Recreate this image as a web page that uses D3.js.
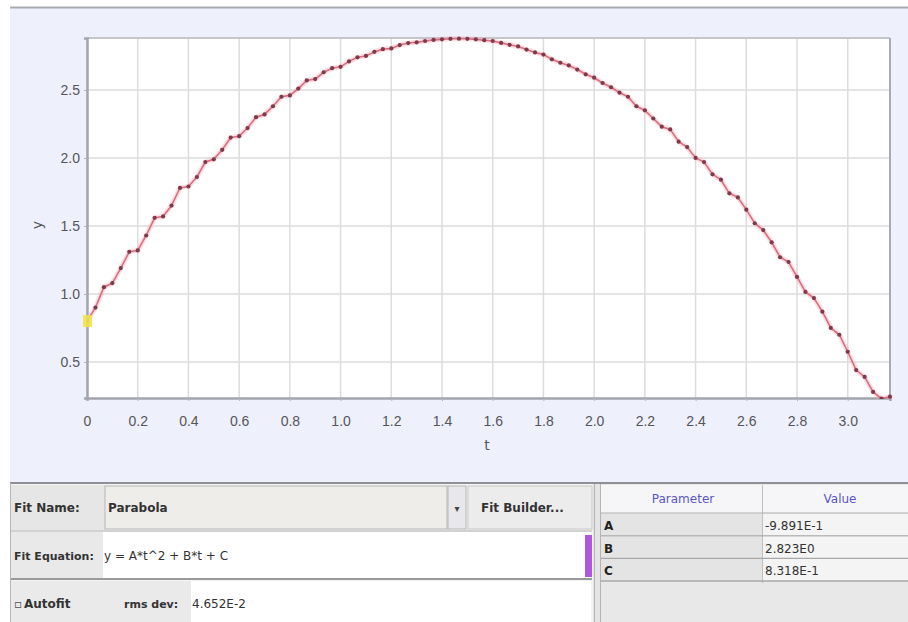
<!DOCTYPE html>
<html>
<head>
<meta charset="utf-8">
<script src="https://cdn.jsdelivr.net/npm/d3@7"></script>
<style>
  body { margin: 0; background: #fff; }
  svg { display: block; font-family: "DejaVu Sans", "Liberation Sans", sans-serif; }
</style>
</head>
<body>
<svg id="chart" width="908" height="622"></svg>
<script>
const tValues = [0, 0.0333, 0.0667, 0.1, 0.1333, 0.1667, 0.2, 0.2333, 0.2667, 0.3,
    0.3333, 0.3667, 0.4, 0.4333, 0.4667, 0.5, 0.5333, 0.5667, 0.6, 0.6333,
    0.6667, 0.7, 0.7333, 0.7667, 0.8, 0.8333, 0.8667, 0.9, 0.9333, 0.9667,
    1.0, 1.0333, 1.0667, 1.1, 1.1333, 1.1667, 1.2, 1.2333, 1.2667, 1.3,
    1.3333, 1.3667, 1.4, 1.4333, 1.4667, 1.5, 1.5333, 1.5667, 1.6, 1.6333,
    1.6667, 1.7, 1.7333, 1.7667, 1.8, 1.8333, 1.8667, 1.9, 1.9333, 1.9667,
    2.0, 2.0333, 2.0667, 2.1, 2.1333, 2.1667, 2.2, 2.2333, 2.2667, 2.3,
    2.3333, 2.3667, 2.4, 2.4333, 2.4667, 2.5, 2.5333, 2.5667, 2.6, 2.6333,
    2.6667, 2.7, 2.7333, 2.7667, 2.8, 2.8333, 2.8667, 2.9, 2.9333, 2.9667,
    3.0, 3.0333, 3.0667, 3.1, 3.1333, 3.1667];
const yValues = [0.80, 0.90, 1.05, 1.08, 1.19, 1.31, 1.32, 1.43, 1.56, 1.57,
    1.65, 1.78, 1.79, 1.86, 1.97, 1.99, 2.06, 2.15, 2.16, 2.22,
    2.30, 2.32, 2.38, 2.45, 2.46, 2.51, 2.57, 2.58, 2.63, 2.66,
    2.67, 2.71, 2.74, 2.75, 2.78, 2.80, 2.805, 2.83, 2.845, 2.85,
    2.86, 2.868, 2.872, 2.876, 2.877, 2.876, 2.872, 2.866, 2.86, 2.846,
    2.832, 2.82, 2.797, 2.776, 2.76, 2.725, 2.70, 2.68, 2.65, 2.615,
    2.59, 2.551, 2.52, 2.48, 2.45, 2.38, 2.35, 2.29, 2.23, 2.21,
    2.12, 2.08, 2.00, 1.97, 1.88, 1.84, 1.74, 1.71, 1.62, 1.52,
    1.47, 1.38, 1.27, 1.235, 1.125, 1.015, 0.97, 0.87, 0.75, 0.70,
    0.575, 0.44, 0.39, 0.28, 0.23, 0.245];
const xTicks = [0, 0.2, 0.4, 0.6, 0.8, 1.0, 1.2, 1.4, 1.6, 1.8, 2.0, 2.2, 2.4, 2.6, 2.8, 3.0];
const yTicks = [0.5, 1.0, 1.5, 2.0, 2.5];

const fitName = 'Parabola';
const fitEquation = 'y = A*t^2 + B*t + C';
const rmsDev = '4.652E-2';
const paramNames = ['A', 'B', 'C'];
const paramValues = ['-9.891E-1', '2.823E0', '8.318E-1'];

const svg = d3.select('#chart');
const W = +svg.attr('width');
const H = +svg.attr('height');
const margin = { top: 38, right: 18, bottom: 224, left: 87 };

const data = tValues.map((t, i) => ({ t, y: yValues[i] }));

// panel background
svg.append('rect').attr('x', 10).attr('y', 7).attr('width', W - 10).attr('height', 475)
    .attr('fill', '#eef0fb');
svg.append('line').attr('x1', 10).attr('x2', W).attr('y1', 7.5).attr('y2', 7.5)
    .attr('stroke', '#a9abb3').attr('stroke-width', 2);

const x = d3.scaleLinear().domain([0, 3.1667]).range([margin.left, W - margin.right]);
const y = d3.scaleLinear().domain([0.235, 2.882]).range([H - margin.bottom, margin.top]);

const plot = svg.append('g');
plot.append('rect')
    .attr('x', x.range()[0]).attr('y', y.range()[1])
    .attr('width', x.range()[1] - x.range()[0])
    .attr('height', y.range()[0] - y.range()[1])
    .attr('fill', '#fff');

// grid
plot.append('g').selectAll('line').data(xTicks).enter().append('line')
    .attr('x1', d => x(d)).attr('x2', d => x(d))
    .attr('y1', y.range()[1]).attr('y2', y.range()[0])
    .attr('stroke', '#dcdcdc').attr('stroke-width', 1.5);
plot.append('g').selectAll('line').data(yTicks).enter().append('line')
    .attr('x1', x.range()[0]).attr('x2', x.range()[1])
    .attr('y1', d => y(d)).attr('y2', d => y(d))
    .attr('stroke', '#dcdcdc').attr('stroke-width', 1.5);

// frame
plot.append('line').attr('x1', x.range()[0]).attr('x2', x.range()[1])
    .attr('y1', y.range()[1]).attr('y2', y.range()[1])
    .attr('stroke', '#c4c6cc').attr('stroke-width', 2);
plot.append('line').attr('x1', x.range()[1]).attr('x2', x.range()[1])
    .attr('y1', y.range()[1]).attr('y2', y.range()[0])
    .attr('stroke', '#a8aab4').attr('stroke-width', 2);

// axes
const xAxis = d3.axisBottom(x).tickValues(xTicks).tickSize(3).tickPadding(15)
    .tickFormat(d => d === 0 ? '0' : d3.format('.1f')(d));
const yAxis = d3.axisLeft(y).tickValues(yTicks).tickSize(3).tickPadding(4)
    .tickFormat(d3.format('.1f'));

const gx = svg.append('g').attr('transform', `translate(0,${y.range()[0]})`).call(xAxis);
const gy = svg.append('g').attr('transform', `translate(${x.range()[0]},0)`).call(yAxis);
[gx, gy].forEach(g => {
    g.select('.domain').attr('stroke', '#a3a5ad').attr('stroke-width', 2.5);
    g.selectAll('.tick line').attr('stroke', '#b0b2b8');
    g.selectAll('.tick text').attr('fill', '#55555c').style('font-size', '14px');
});

svg.append('text').attr('x', 487).attr('y', 450).attr('text-anchor', 'middle')
    .attr('fill', '#55555c').style('font-size', '14px').text('t');
svg.append('text').attr('transform', 'translate(42,225) rotate(-90)').attr('text-anchor', 'middle')
    .attr('fill', '#55555c').style('font-size', '14px').text('y');

// data
svg.append('clipPath').attr('id', 'clip').append('rect')
    .attr('x', x.range()[0]).attr('y', y.range()[1] - 3)
    .attr('width', x.range()[1] - x.range()[0] + 4)
    .attr('height', y.range()[0] - y.range()[1] + 4);

const line = d3.line().x(d => x(d.t)).y(d => y(d.y));
const series = svg.append('g').attr('clip-path', 'url(#clip)');
series.append('path').datum(data).attr('d', line)
    .attr('fill', 'none').attr('stroke', '#f2a2b0').attr('stroke-width', 5).attr('opacity', 0.35);
series.append('path').datum(data).attr('d', line)
    .attr('fill', 'none').attr('stroke', '#dc6c80').attr('stroke-width', 1.6);
series.selectAll('circle').data(data).enter().append('circle')
    .attr('cx', d => x(d.t)).attr('cy', d => y(d.y)).attr('r', 2.1)
    .attr('fill', '#7c3a4c');

// selected first point
svg.append('rect')
    .attr('x', x(data[0].t) - 4).attr('y', y(data[0].y) - 6)
    .attr('width', 9).attr('height', 12)
    .attr('fill', '#f1e34a').attr('opacity', 0.9);

// ---- fit panel ----
const panel = svg.append('g');
panel.append('rect').attr('x', 10).attr('y', 482).attr('width', W - 10).attr('height', H - 482)
    .attr('fill', '#f3f3f3');
panel.append('line').attr('x1', 10).attr('x2', W).attr('y1', 483).attr('y2', 483)
    .attr('stroke', '#8e9098').attr('stroke-width', 2);
panel.append('line').attr('x1', 10.5).attr('x2', 10.5).attr('y1', 483).attr('y2', H)
    .attr('stroke', '#b8b8b8');

// row 1: fit name
panel.append('rect').attr('x', 11).attr('y', 485).attr('width', 94).attr('height', 45).attr('fill', '#e6e6e6');
panel.append('rect').attr('x', 105).attr('y', 486).attr('width', 342).attr('height', 43)
    .attr('fill', '#efede9').attr('stroke', '#b5b5b5');
panel.append('rect').attr('x', 448).attr('y', 486).attr('width', 18).attr('height', 43)
    .attr('fill', '#e8e8ec').attr('stroke', '#b5b5b5');
panel.append('text').attr('x', 457).attr('y', 512).attr('text-anchor', 'middle')
    .attr('fill', '#444').style('font-size', '10px').text('▾');
panel.append('rect').attr('x', 468).attr('y', 486).attr('width', 124).attr('height', 43)
    .attr('fill', '#ececec').attr('stroke', '#c8c8c8');
panel.append('text').attr('x', 14).attr('y', 512).attr('fill', '#333')
    .style('font-size', '12px').style('font-weight', 'bold').text('Fit Name:');
panel.append('text').attr('x', 108).attr('y', 512).attr('fill', '#333')
    .style('font-size', '12px').style('font-weight', 'bold').text(fitName);
panel.append('text').attr('x', 481).attr('y', 512).attr('fill', '#333')
    .style('font-size', '12px').style('font-weight', 'bold').text('Fit Builder...');

// row 2: equation
panel.append('rect').attr('x', 11).attr('y', 532).attr('width', 580).attr('height', 46).attr('fill', '#fff');
panel.append('rect').attr('x', 11).attr('y', 532).attr('width', 92).attr('height', 46).attr('fill', '#e9e9e9');
panel.append('line').attr('x1', 11).attr('x2', 592).attr('y1', 531).attr('y2', 531).attr('stroke', '#b0b0b0');
panel.append('line').attr('x1', 11).attr('x2', 592).attr('y1', 579).attr('y2', 579).attr('stroke', '#9a9a9a').attr('stroke-width', 2);
panel.append('text').attr('x', 14).attr('y', 560).attr('fill', '#333')
    .style('font-size', '11px').style('font-weight', 'bold').text('Fit Equation:');
panel.append('text').attr('x', 104).attr('y', 560).attr('fill', '#333')
    .style('font-size', '12px').text(fitEquation);
panel.append('rect').attr('x', 585).attr('y', 535).attr('width', 7).attr('height', 42)
    .attr('fill', '#b155dd');

// row 3: autofit
panel.append('rect').attr('x', 11).attr('y', 581).attr('width', 580).attr('height', 41).attr('fill', '#fff');
panel.append('rect').attr('x', 11).attr('y', 581).attr('width', 180).attr('height', 41).attr('fill', '#eaeaea');
panel.append('text').attr('x', 14).attr('y', 608).attr('fill', '#555')
    .style('font-size', '12px').text('▫');
panel.append('text').attr('x', 24).attr('y', 608).attr('fill', '#333')
    .style('font-size', '12px').style('font-weight', 'bold').text('Autofit');
panel.append('text').attr('x', 124).attr('y', 608).attr('fill', '#333')
    .style('font-size', '11px').style('font-weight', 'bold').text('rms dev:');
panel.append('text').attr('x', 192).attr('y', 608).attr('fill', '#333')
    .style('font-size', '12px').text(rmsDev);

// separator
panel.append('rect').attr('x', 593).attr('y', 484).attr('width', 8).attr('height', H - 484).attr('fill', '#e4e4e4');
panel.append('line').attr('x1', 594.5).attr('x2', 594.5).attr('y1', 484).attr('y2', H).attr('stroke', '#b4b4b4');
panel.append('line').attr('x1', 600.5).attr('x2', 600.5).attr('y1', 484).attr('y2', H).attr('stroke', '#b4b4b4');

// parameter table
const table = panel.append('g');
table.append('rect').attr('x', 601).attr('y', 484).attr('width', W - 601).attr('height', H - 484).attr('fill', '#e8e8e8');
table.append('rect').attr('x', 601).attr('y', 485).attr('width', W - 601).attr('height', 28).attr('fill', '#f6f6f8');
table.append('line').attr('x1', 762.5).attr('x2', 762.5).attr('y1', 485).attr('y2', 583).attr('stroke', '#c0c0c0');
table.append('line').attr('x1', 601).attr('x2', W).attr('y1', 513).attr('y2', 513).attr('stroke', '#b0b0b0');
table.append('text').attr('x', 683).attr('y', 503).attr('text-anchor', 'middle')
    .attr('fill', '#5a55c8').style('font-size', '12px').text('Parameter');
table.append('text').attr('x', 840).attr('y', 503).attr('text-anchor', 'middle')
    .attr('fill', '#5a55c8').style('font-size', '12px').text('Value');

const rowH = 22.5;
const rows = table.selectAll('g.row').data(paramNames).enter().append('g')
    .attr('class', 'row')
    .attr('transform', (d, i) => `translate(0,${514 + i * rowH})`);
rows.append('rect').attr('x', 601).attr('y', 0).attr('width', 161).attr('height', rowH - 1).attr('fill', '#e4e4e4');
rows.append('rect').attr('x', 763).attr('y', 0).attr('width', W - 763).attr('height', rowH - 1).attr('fill', '#f4f4f4');
rows.append('line').attr('x1', 601).attr('x2', W).attr('y1', rowH - 0.5).attr('y2', rowH - 0.5)
    .attr('stroke', '#a8a8a8').attr('stroke-width', 1.5);
rows.append('text').attr('x', 604).attr('y', 16).attr('fill', '#222')
    .style('font-size', '12px').style('font-weight', 'bold').text(d => d);
rows.append('text').attr('x', 765).attr('y', 16).attr('fill', '#333')
    .style('font-size', '12px').text((d, i) => paramValues[i]);
</script>
</body>
</html>
